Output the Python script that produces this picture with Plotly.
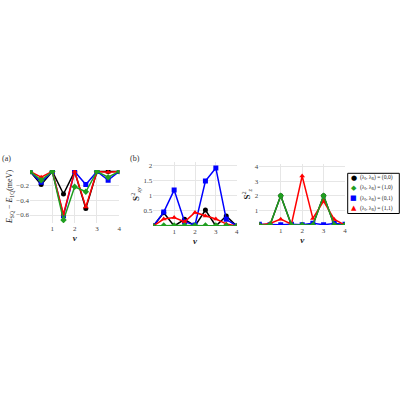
import plotly.graph_objects as go

# ------------------------------------------------------------
# Data
# ------------------------------------------------------------
nu = [0, 0.5, 1, 1.5, 2, 2.5, 3, 3.5, 4]

series_names = [
    "(λ<sub>I</sub>, λ<sub>R</sub>) = (0,0)",
    "(λ<sub>I</sub>, λ<sub>R</sub>) = (1,0)",
    "(λ<sub>I</sub>, λ<sub>R</sub>) = (0,1)",
    "(λ<sub>I</sub>, λ<sub>R</sub>) = (1,1)",
]

# panel (a): E_SQ - E_1Q (meV)
de_00 = [0, -0.18, 0, -0.31, 0, -0.51, 0, 0, 0]
de_10 = [0, -0.12, 0, -0.67, -0.21, -0.28, 0, -0.08, 0]
de_01 = [0, -0.15, 0, -0.61, 0, -0.18, 0, -0.12, 0]
de_11 = [0, -0.08, 0, -0.59, 0, -0.49, 0, -0.01, 0]

# panel (b): S_xy^2
sxy_00 = [0, 0.44, 0, 0.22, 0, 0.53, 0, 0.33, 0]
sxy_10 = [0, 0.02, 0.02, 0.02, 0.02, 0.02, 0.02, 0.02, 0]
sxy_01 = [0, 0.46, 1.19, 0.14, 0.03, 1.49, 1.92, 0.22, 0]
sxy_11 = [0, 0.23, 0.28, 0.14, 0.45, 0.33, 0.23, 0.07, 0]

# panel (c): S_z^2
sz_00 = [0, 0, 2.0, 0, 0, 0, 2.0, 0, 0]
sz_10 = [0, 0.02, 2.0, 0, 0, 0, 2.0, 0, 0]
sz_01 = [0.05, 0.02, 0.02, 0.05, 0.02, 0.12, 0.02, 0.1, 0.05]
sz_11 = [0, 0.1, 0.4, 0.05, 3.36, 0.45, 1.64, 0.38, 0]

colors = ["black", "#1f9e1f", "#0000ff", "#ff0000"]
symbols = ["circle", "diamond", "square", "triangle-up"]
legend_glyphs = ["●", "◆", "■", "▲"]

panels = [
    ("x", "y", [de_00, de_10, de_01, de_11]),
    ("x2", "y2", [sxy_00, sxy_10, sxy_01, sxy_11]),
    ("x3", "y3", [sz_00, sz_10, sz_01, sz_11]),
]

# body margin is removed in the page (see post_script), so figure pixels == page pixels
SIZE = 400


def px(x):
    return x / SIZE


def py(y):
    return 1 - y / SIZE


# draw order: black, blue, red, green (green on top)
order = [0, 2, 3, 1]

fig = go.Figure()

for p, (xa, ya, data) in enumerate(panels):
    for i in order:
        fig.add_trace(
            go.Scatter(
                x=nu,
                y=data[i],
                mode="lines+markers",
                name=series_names[i],
                showlegend=False,
                xaxis=xa,
                yaxis=ya,
                line=dict(color=colors[i], width=1.5),
                marker=dict(color=colors[i], symbol=symbols[i], size=5),
            )
        )

FONT = "Liberation Serif"
tick_font = dict(family=FONT, size=7, color="#444")
grid = "#e6e6e6"

xcommon = dict(
    range=[0, 4],
    tickvals=[1, 2, 3, 4],
    ticktext=["1", "2", "3", "4"],
    showgrid=True,
    gridcolor=grid,
    zeroline=False,
    showline=False,
    automargin=False,
    tickfont=tick_font,
    ticks="",
    title=dict(text="<b><i>ν</i></b>", font=dict(family=FONT, size=9, color="#222"), standoff=2),
)

fig.update_layout(
    width=SIZE,
    height=SIZE,
    paper_bgcolor="white",
    plot_bgcolor="white",
    margin=dict(l=0, r=0, t=0, b=0),
    font=dict(family=FONT, color="#222"),
    showlegend=False,
    xaxis=dict(domain=[px(30), px(119.3)], anchor="y", **xcommon),
    xaxis2=dict(domain=[px(153.3), px(236.7)], anchor="y2", **xcommon),
    xaxis3=dict(domain=[px(259.3), px(345)], anchor="y3", **xcommon),
    yaxis=dict(
        domain=[py(223), py(170)],
        anchor="x",
        range=[-0.71, 0.02],
        tickvals=[-0.6, -0.4, -0.2],
        ticktext=["−0.6", "−0.4", "−0.2"],
        gridcolor=grid,
        zeroline=False,
        automargin=False,
        tickfont=tick_font,
        title=dict(
            text="<i>E</i><sub>SQ</sub> − <i>E</i><sub>1Q</sub>(meV)",
            font=dict(family=FONT, size=8, color="#222"),
            standoff=2,
        ),
    ),
    yaxis2=dict(
        domain=[py(226), py(162)],
        anchor="x2",
        range=[0, 2.12],
        tickvals=[0.5, 1, 1.5, 2],
        gridcolor=grid,
        zeroline=False,
        automargin=False,
        tickfont=tick_font,
        title=dict(
            text="<b>S</b><sup>2</sup><sub><i>xy</i></sub>",
            font=dict(family=FONT, size=9, color="#222"),
            standoff=2,
        ),
    ),
    yaxis3=dict(
        domain=[py(225), py(163.5)],
        anchor="x3",
        range=[0, 4.22],
        tickvals=[1, 2, 3, 4],
        gridcolor=grid,
        zeroline=False,
        automargin=False,
        tickfont=tick_font,
        title=dict(
            text="<b>S</b><sup>2</sup><sub><i>z</i></sub>",
            font=dict(family=FONT, size=9, color="#222"),
            standoff=2,
        ),
    ),
)

fig.add_annotation(
    xref="paper", yref="paper", x=px(0), y=py(158), xanchor="left", yanchor="middle",
    text="(a)", showarrow=False, font=dict(family=FONT, size=8, color="#333"),
)
fig.add_annotation(
    xref="paper", yref="paper", x=px(128), y=py(158), xanchor="left", yanchor="middle",
    text="(b)", showarrow=False, font=dict(family=FONT, size=8, color="#333"),
)

# ------------------------------------------------------------
# Compact boxed legend (plotly's own legend rows are too tall here)
# ------------------------------------------------------------
fig.add_shape(
    type="rect", xref="paper", yref="paper",
    x0=px(347.7), x1=px(399.3), y0=py(213.5), y1=py(173.3),
    line=dict(color="black", width=1), fillcolor="white", layer="above",
)
for k in range(4):
    y_row = py(177.5 + 10.3 * k)
    fig.add_annotation(
        xref="paper", yref="paper", x=px(353.5), y=y_row, xanchor="center", yanchor="middle",
        text=legend_glyphs[k], showarrow=False,
        font=dict(family="DejaVu Sans", size=7, color=colors[k]),
    )
    fig.add_annotation(
        xref="paper", yref="paper", x=px(358), y=y_row, xanchor="left", yanchor="middle",
        text=series_names[k], showarrow=False,
        font=dict(family=FONT, size=5.6, color="#222"),
    )

fig.write_html(
    "out.html",
    config={"displayModeBar": False},
    post_script="document.body.style.margin = '0px';",
)
